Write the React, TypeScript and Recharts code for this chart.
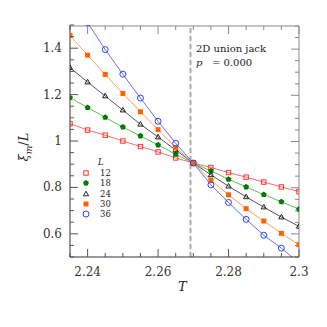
import { LineChart, Line, XAxis, YAxis, ReferenceLine } from 'recharts'

const temps = [2.235, 2.24, 2.245, 2.25, 2.255, 2.26, 2.265, 2.27, 2.275, 2.28, 2.285, 2.29, 2.295, 2.3]
const l12 = [1.075, 1.047, 1.025, 1.0, 0.976, 0.953, 0.927, 0.905, 0.886, 0.864, 0.844, 0.823, 0.802, 0.782]
const l18 = [1.187, 1.144, 1.102, 1.06, 1.022, 0.983, 0.943, 0.905, 0.871, 0.835, 0.802, 0.769, 0.738, 0.706]
const l24 = [1.316, 1.254, 1.194, 1.133, 1.072, 1.017, 0.961, 0.905, 0.854, 0.805, 0.759, 0.715, 0.672, 0.632]
const l30 = [1.455, 1.37, 1.287, 1.205, 1.126, 1.049, 0.972, 0.905, 0.831, 0.768, 0.708, 0.655, 0.602, 0.553]
const l36 = [1.62, 1.51, 1.394, 1.288, 1.185, 1.085, 0.99, 0.905, 0.811, 0.735, 0.662, 0.594, 0.538, 0.475]

const xMajor = [2.24, 2.26, 2.28, 2.3]
const xTicks = [2.235, 2.24, 2.245, 2.25, 2.255, 2.26, 2.265, 2.27, 2.275, 2.28, 2.285, 2.29, 2.295, 2.3]
const yMajor = [0.6, 0.8, 1, 1.2, 1.4]
const yTicks = [0.5, 0.55, 0.6, 0.65, 0.7, 0.75, 0.8, 0.85, 0.9, 0.95, 1, 1.05, 1.1, 1.15, 1.2, 1.25, 1.3, 1.35, 1.4, 1.45, 1.5]
const tc = 2.2692

type Kind = 'osq' | 'pent' | 'tri' | 'sq' | 'circ'

const series: { key: string; label: string; vals: number[]; kind: Kind; mark: string; line: string }[] = [
  { key: 's12', label: '12', vals: l12, kind: 'osq', mark: '#ff3030', line: '#ff6a6a' },
  { key: 's18', label: '18', vals: l18, kind: 'pent', mark: '#007a00', line: '#5cbf5c' },
  { key: 's24', label: '24', vals: l24, kind: 'tri', mark: '#222222', line: '#555555' },
  { key: 's30', label: '30', vals: l30, kind: 'sq', mark: '#ff6000', line: '#ff9a5a' },
  { key: 's36', label: '36', vals: l36, kind: 'circ', mark: '#3040ff', line: '#6070ff' },
]

const data = temps.map((t, i) => {
  const row: Record<string, number> = { T: t }
  series.forEach(s => { row[s.key] = s.vals[i] })
  return row
})

function Marker({ kind, color, cx, cy }: { kind: Kind; color: string; cx: number; cy: number }) {
  if (kind === 'osq') return <rect x={cx - 2.2} y={cy - 2.2} width={4.4} height={4.4} fill="none" stroke={color} strokeWidth={1} />
  if (kind === 'sq') return <rect x={cx - 2.5} y={cy - 2.5} width={5} height={5} fill={color} />
  if (kind === 'circ') return <circle cx={cx} cy={cy} r={3} fill="none" stroke={color} strokeWidth={1} />
  if (kind === 'tri') {
    const pts = `${cx},${cy - 2.8} ${cx - 2.6},${cy + 1.8} ${cx + 2.6},${cy + 1.8}`
    return <polygon points={pts} fill="none" stroke={color} strokeWidth={1} />
  }
  const r = 3.1
  const pts = [0, 1, 2, 3, 4].map(k => {
    const a = -Math.PI / 2 + (k * 2 * Math.PI) / 5
    return `${cx + r * Math.cos(a)},${cy + r * Math.sin(a)}`
  }).join(' ')
  return <polygon points={pts} fill={color} />
}

const dotFor = (kind: Kind, color: string) => (p: any) => {
  if (p.cx == null || p.cy == null) return <g key={`${kind}-${p.index}`} />
  return <g key={`${kind}-${p.index}`}><Marker kind={kind} color={color} cx={p.cx} cy={p.cy} /></g>
}

const serif = '"DejaVu Serif", serif'
const isMajor = (list: number[], v: number) => list.some(m => Math.abs(m - v) < 1e-9)

// inward ticks drawn by hand at the positions the axis gives; labels only on the bottom/left
const tickFor = (side: 'bottom' | 'top' | 'left' | 'right', color: string) => (p: any) => {
  const v = p.payload.value
  const major = isMajor(side === 'bottom' || side === 'top' ? xMajor : yMajor, v)
  const len = major ? 8 : 4
  const { x, y } = p
  if (side === 'bottom') return (
    <g>
      <line x1={x} x2={x} y1={y} y2={y - len} stroke={color} />
      {major && <text x={x} y={y + 19} textAnchor="middle" fontSize={12} fontFamily={serif} fill="#333">{v}</text>}
    </g>
  )
  if (side === 'top') return <line x1={x} x2={x} y1={y} y2={y + len} stroke={color} />
  if (side === 'left') return (
    <g>
      <line x1={x} x2={x + len} y1={y} y2={y} stroke={color} />
      {major && <text x={x - 8} y={y + 4} textAnchor="end" fontSize={12} fontFamily={serif} fill="#333">{v}</text>}
    </g>
  )
  return <line x1={x} x2={x - len} y1={y} y2={y} stroke={color} />
}

const margin = { top: 25, right: 28, bottom: 30, left: 0 }

export default function App() {
  return (
    <div style={{ position: 'absolute', left: 0, top: 0, width: 327, height: 327, background: '#fff' }}>
      {/* top and right frame: its own chart laid over the main one */}
      <div style={{ position: 'absolute', left: 0, top: 0 }}>
        <LineChart width={327} height={327} data={data} margin={{ top: 25, right: 28, bottom: 70, left: 70 }}>
          <XAxis orientation="top" dataKey="T" type="number" domain={[2.235, 2.3]} ticks={xTicks}
            tickSize={0} tickMargin={0} height={1} stroke="#888" tick={tickFor('top', '#888')} interval={0} allowDataOverflow />
          <YAxis orientation="right" type="number" domain={[0.5, 1.5]} ticks={yTicks}
            tickSize={0} tickMargin={0} width={0.01} stroke="#888" tick={tickFor('right', '#888')} interval={0} allowDataOverflow />
          <Line dataKey="s12" stroke="none" dot={false} activeDot={false} isAnimationActive={false} />
        </LineChart>
      </div>
      <div style={{ position: 'absolute', left: 0, top: 0 }}>
        <LineChart width={327} height={327} data={data} margin={margin}>
          <XAxis dataKey="T" type="number" domain={[2.235, 2.3]} ticks={xTicks} allowDataOverflow
            tickSize={0} tickMargin={0} height={40} stroke="#333" tick={tickFor('bottom', '#555')} interval={0} />
          <YAxis type="number" domain={[0.5, 1.5]} ticks={yTicks} allowDataOverflow width={70}
            tickSize={0} tickMargin={0} stroke="#333" tick={tickFor('left', '#555')} interval={0} />
          <ReferenceLine x={tc} stroke="#aaaaaa" strokeWidth={2} strokeDasharray="5 3" />
          {series.map(s => (
            <Line key={s.key} dataKey={s.key} stroke={s.line} strokeWidth={1} type="linear"
              dot={dotFor(s.kind, s.mark)} activeDot={false} isAnimationActive={false} />
          ))}
        </LineChart>
      </div>

      <div style={{ position: 'absolute', left: 196, top: 42, fontFamily: serif, fontSize: 10, color: '#222', lineHeight: '14px' }}>
        <div>2D union jack</div>
        <div><span style={{ fontStyle: 'italic' }}>p</span>&nbsp;&nbsp;&nbsp;= 0.000</div>
      </div>

      <div style={{ position: 'absolute', left: 80, top: 157, fontFamily: serif, fontSize: 8.5, color: '#222' }}>
        <div style={{ marginLeft: 18, fontStyle: 'italic', height: 11 }}>L</div>
        {series.map(s => (
          <div key={s.key} style={{ display: 'flex', alignItems: 'center', height: 10.3 }}>
            <svg width={12} height={10} style={{ marginRight: 8 }}>
              <Marker kind={s.kind} color={s.mark} cx={6} cy={5} />
            </svg>
            <span>{s.label}</span>
          </div>
        ))}
      </div>

      <div style={{ position: 'absolute', left: 178, top: 279, fontFamily: serif, fontSize: 13, fontStyle: 'italic', color: '#222' }}>T</div>

      <div style={{ position: 'absolute', left: 25, top: 147, transform: 'translate(-50%, -50%) rotate(-90deg)', fontFamily: serif, fontSize: 13, color: '#222', whiteSpace: 'nowrap' }}>
        <span style={{ fontStyle: 'italic' }}>ξ</span><sub style={{ fontStyle: 'italic', fontSize: 9 }}>m</sub>/<span style={{ fontStyle: 'italic' }}>L</span>
      </div>
    </div>
  )
}
